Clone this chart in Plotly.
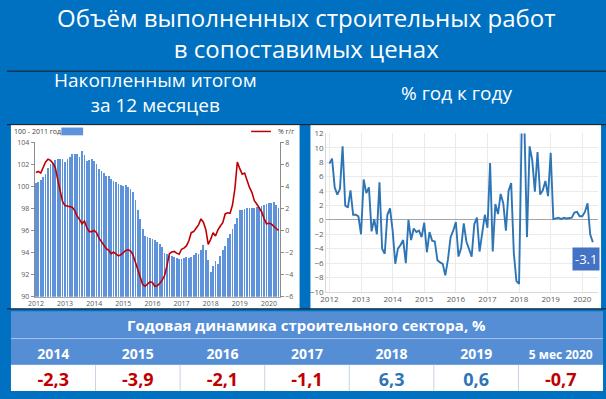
import plotly.graph_objects as go

# ---------------- DATA ----------------
years = ["2012", "2013", "2014", "2015", "2016", "2017", "2018", "2019", "2020"]

# Left chart: cumulative 12-month volume index (100 = 2011), monthly Jan 2012 - May 2020
volume_index = (
    [100.3, 100.4, 100.6, 100.8, 101.1, 101.7, 102.0, 102.1, 102.35, 102.5, 102.5, 102.5] +
    [102.2, 102.45, 102.7, 102.9, 102.9, 102.9, 102.7, 103.2, 102.8, 102.3, 102.35, 102.5] +
    [102.3, 102.0, 101.55, 101.35, 101.2, 100.95, 100.9, 100.7, 100.5, 100.4, 100.2, 100.1] +
    [100.0, 100.1, 99.9, 99.8, 99.5, 98.8, 97.9, 97.0, 96.1, 95.5, 95.4, 95.3] +
    [95.2, 95.1, 95.0, 94.8, 94.5, 94.0, 93.9, 93.8, 93.7, 93.6, 93.5, 93.4] +
    [93.4, 93.5, 93.6, 93.5, 93.6, 93.8, 94.0, 93.9, 94.2, 94.65, 94.2, 93.3] +
    [92.2, 92.8, 93.2, 93.0, 93.7, 94.2, 94.6, 95.3, 95.7, 96.1, 96.6, 97.1] +
    [97.9, 97.9, 97.95, 98.0, 98.0, 98.05, 98.05, 98.1, 98.1, 98.2, 98.3, 98.4] +
    [98.5, 98.5, 98.55, 98.3, 98.0]
)

# Left chart: cumulative % y/y (right axis)
cum_yoy = (
    [5.25, 5.35, 5.2, 5.7, 6.2, 6.45, 6.35, 6.1, 5.7, 4.6, 3.7, 2.6] +
    [2.25, 2.2, 2.2, 2.1, 1.8, 1.3, 1.0, 0.6, 0.85, 0.25, -0.1, -0.1] +
    [0.0, -0.2, -0.7, -1.05, -1.35, -1.65, -1.8, -2.1, -1.95, -2.1, -2.3, -2.2] +
    [-2.0, -1.8, -1.75, -1.85, -2.2, -2.9, -3.7, -4.4, -4.9, -5.05, -4.8, -4.65] +
    [-4.7, -5.05, -5.0, -4.8, -4.5, -4.1, -3.2, -2.1, -1.95, -1.9, -2.05, -2.15] +
    [-1.7, -1.6, -1.4, -0.95, -0.2, -0.1, 0.2, 0.5, 1.05, 0.75, 0.1, -1.25] +
    [-0.8, -0.2, -0.5, 0.05, 0.4, 0.7, 1.5, 1.6, 1.55, 2.3, 3.8, 6.2] +
    [5.6, 5.1, 5.2, 4.5, 3.9, 3.45, 2.7, 2.4, 2.1, 1.7, 1.1, 0.6] +
    [0.65, 0.6, 0.37, 0.2, 0.0]
)

# Right chart: monthly % y/y
monthly_yoy = (
    [7.8, 8.5, 4.5, 3.5, 4.3, 10.2, 2.0, 1.7, 4.1, 0.7, 0.7, 0.5] +
    [-2.0, 5.6, 3.7, 4.5, -1.6, 0.1, -2.0, 5.2, -4.0, -4.7, 0.7, 1.6] +
    [-1.5, -6.1, -4.0, -3.5, -2.8, -6.0, 0.0, -2.8, -1.2, -1.7, -1.5, -2.4] +
    [-0.4, -4.5, -1.7, -2.9, -3.0, -5.6, -5.9, -6.1, -7.7, -5.5, -2.4, -1.5] +
    [-0.3, -5.1, -3.9, -0.5, -3.0, -4.1, -5.1, -0.6, 0.3, -4.4, -1.5, 0.7] +
    [-1.1, 7.9, -4.4, 2.2, 0.8, 3.6, 2.3, -1.5, 4.0, 5.1, -4.6, -8.5] +
    [-8.9, 13.0, 13.5, -2.4, 10.2, 8.3, 3.9, 9.4, 3.5, 4.1, 5.4, 3.3] +
    [9.3, 0.1, 0.2, 0.3, 0.1, 0.3, 0.2, 0.2, 0.3, 1.0, 1.1, 0.5] +
    [0.5, 1.1, 2.3, -2.0, -3.1]
)

table_years = ["2014", "2015", "2016", "2017", "2018", "2019", "5 мес 2020"]
table_values = [-2.3, -3.9, -2.1, -1.1, 6.3, 0.6, -0.7]

# ---------------- FIGURE ----------------
W, H = 606, 399
BLUE = "#0070C0"
HDR = "#558ED5"
FONT = "Open Sans"


def px(x):
    return x / W


def py(y):
    return 1 - y / H


months = list(range(len(volume_index)))
year_ticks = [12 * k for k in range(len(years))]
cols = list(range(len(table_years)))

fig = go.Figure()

fig.add_trace(go.Bar(
    x=months, y=volume_index, marker=dict(color="#5E92DA", line=dict(width=0)),
    width=0.72, xaxis="x", yaxis="y", showlegend=False, hoverinfo="skip"))
fig.add_trace(go.Scatter(
    x=months, y=cum_yoy, mode="lines", line=dict(color="#C00000", width=1.6),
    xaxis="x", yaxis="y2", showlegend=False, hoverinfo="skip"))
fig.add_trace(go.Scatter(
    x=months, y=monthly_yoy, mode="lines", line=dict(color="#2E75B6", width=1.9),
    xaxis="x2", yaxis="y3", showlegend=False, hoverinfo="skip"))

# table: row 1 = years, row 0 = values
value_text = ["<b>%s</b>" % ("%.1f" % v).replace(".", ",") for v in table_values]
value_colors = ["#C00000" if v < 0 else "#2E75B6" for v in table_values]
header_sizes = [14 if t.isdigit() else 12 for t in table_years]
fig.add_trace(go.Scatter(
    x=cols, y=[1] * len(cols), mode="text", text=["<b>%s</b>" % t for t in table_years],
    textfont=dict(color="white", size=header_sizes, family=FONT), textposition="middle center",
    xaxis="x3", yaxis="y4", showlegend=False, hoverinfo="skip", cliponaxis=False))
fig.add_trace(go.Scatter(
    x=cols, y=[0] * len(cols), mode="text", text=value_text,
    textfont=dict(color=value_colors, size=18, family=FONT), textposition="middle center",
    xaxis="x3", yaxis="y4", showlegend=False, hoverinfo="skip", cliponaxis=False))

axfont = dict(size=7, color="#595959", family=FONT)
fig.update_layout(
    width=W, height=H, margin=dict(l=0, r=0, t=0, b=0),
    paper_bgcolor=BLUE, plot_bgcolor="rgba(0,0,0,0)", bargap=0,
    font=dict(family=FONT),
    xaxis=dict(domain=[px(28), px(276)], range=[-0.5, 100.5], tickvals=year_ticks,
               ticktext=years, tickfont=axfont, showgrid=False, zeroline=False,
               showline=True, linecolor="#A6A6A6", ticks="", anchor="y"),
    yaxis=dict(domain=[py(299), py(140)], range=[90, 104], dtick=2, tickfont=axfont,
               showgrid=False, zeroline=False, showline=True, linecolor="#8C8C8C",
               ticks="outside", ticklen=3, tickcolor="#8C8C8C", anchor="x"),
    yaxis2=dict(overlaying="y", side="right", range=[-6, 8], dtick=2, tickfont=axfont,
                showgrid=False, zeroline=False, showline=True, linecolor="#8C8C8C",
                ticks="outside", ticklen=3, tickcolor="#8C8C8C", anchor="x"),
    xaxis2=dict(domain=[px(323), px(598)], range=[-1.2, 102], tickvals=year_ticks,
                ticktext=years, tickfont=dict(size=8, color="#595959", family=FONT),
                showgrid=True, gridcolor="#EBEBEB", zeroline=False, showline=True,
                linecolor="#D9D9D9", ticks="", anchor="y3"),
    yaxis3=dict(domain=[py(294), py(131)], range=[-10, 12], dtick=2,
                tickfont=dict(size=8, color="#595959", family=FONT),
                showgrid=True, gridcolor="#EBEBEB", zeroline=True, zerolinecolor="#A6A6A6",
                zerolinewidth=1, showline=True, linecolor="#D9D9D9", ticks="",
                anchor="x2"),
    # table axes: rows are 27 px tall; text anchors sit a little below the row middles
    xaxis3=dict(domain=[px(4), px(603)], range=[-0.5, len(cols) - 0.5], visible=False,
                fixedrange=True, anchor="y4"),
    yaxis4=dict(domain=[py(396), py(342)], range=[-0.35, 1.65], visible=False,
                fixedrange=True, anchor="x3"),
)

shapes = [
    dict(type="rect", xref="paper", yref="paper", x0=px(4), x1=px(296), y0=py(311), y1=py(122),
         fillcolor="white", line=dict(width=0), layer="below"),
    dict(type="rect", xref="paper", yref="paper", x0=px(307), x1=px(601), y0=py(311), y1=py(122),
         fillcolor="white", line=dict(width=0), layer="below"),
    dict(type="line", xref="paper", yref="paper", x0=0, x1=1, y0=py(67), y1=py(67),
         line=dict(color="#1A1A1A", width=1)),
    dict(type="line", xref="paper", yref="paper", x0=0, x1=1, y0=py(122), y1=py(122),
         line=dict(color="#1A1A1A", width=1)),
    dict(type="line", xref="paper", yref="paper", x0=0, x1=1, y0=py(311.5), y1=py(311.5),
         line=dict(color="#1A1A1A", width=1)),
    # table title band, year row, value row
    dict(type="rect", xref="paper", yref="paper", x0=px(4), x1=px(603), y0=py(342), y1=py(314),
         fillcolor=HDR, line=dict(width=0), layer="below"),
    dict(type="rect", xref="paper", yref="paper", x0=px(4), x1=px(603), y0=py(369), y1=py(342),
         fillcolor=HDR, line=dict(width=0), layer="below"),
    dict(type="rect", xref="paper", yref="paper", x0=px(4), x1=px(603), y0=py(396), y1=py(369),
         fillcolor="white", line=dict(width=0), layer="below"),
    dict(type="line", xref="paper", yref="paper", x0=px(4), x1=px(603), y0=py(342), y1=py(342),
         line=dict(color="#A9C4EB", width=1)),
    # legend swatches
    dict(type="rect", xref="paper", yref="paper", x0=px(55), x1=px(77), y0=py(133), y1=py(125),
         fillcolor="#5E92DA", line=dict(width=0)),
    dict(type="line", xref="paper", yref="paper", x0=px(247), x1=px(267), y0=py(129), y1=py(129),
         line=dict(color="#C00000", width=1.5)),
]
for c in cols[:-1]:
    shapes.append(dict(type="line", xref="x3", yref="paper", x0=c + 0.5, x1=c + 0.5,
                       y0=py(396), y1=py(369), line=dict(color="#C9D3E3", width=1), layer="below"))

ann = []


def text(x, y, s, size, color="white", bold=False, xanchor="center"):
    ann.append(dict(xref="paper", yref="paper", x=px(x), y=py(y), text=("<b>%s</b>" % s) if bold else s,
                    showarrow=False, xanchor=xanchor, yanchor="middle",
                    font=dict(size=size, color=color, family=FONT)))


text(303, 28, "Объём выполненных строительных работ<br>в сопоставимых ценах", 24)
text(150, 89, "Накопленным итогом<br>за 12 месяцев", 19)
text(455, 89, "% год к году", 19)
text(303, 328, "Годовая динамика строительного сектора, %", 15, bold=True)
text(5, 129, "100 - 2011 год", 7, color="#404040", xanchor="left")
text(272, 129, "% г/г", 7, color="#404040", xanchor="left")

ann.append(dict(xref="x2", yref="y3", x=months[-1], y=monthly_yoy[-1],
                text=("%.1f" % monthly_yoy[-1]), showarrow=False, xshift=-7, yshift=-17,
                bgcolor="#4472C4", font=dict(size=13, color="white", family=FONT), borderpad=2))

fig.update_layout(shapes=shapes, annotations=ann)
fig.write_html("out.html", config={"displayModeBar": False, "staticPlot": True})

with open("out.html", encoding="utf-8") as f:
    html = f.read()
html = html.replace("<head>", "<head><style>html,body{margin:0;padding:0;overflow:hidden;}</style>", 1)
with open("out.html", "w", encoding="utf-8") as f:
    f.write(html)
